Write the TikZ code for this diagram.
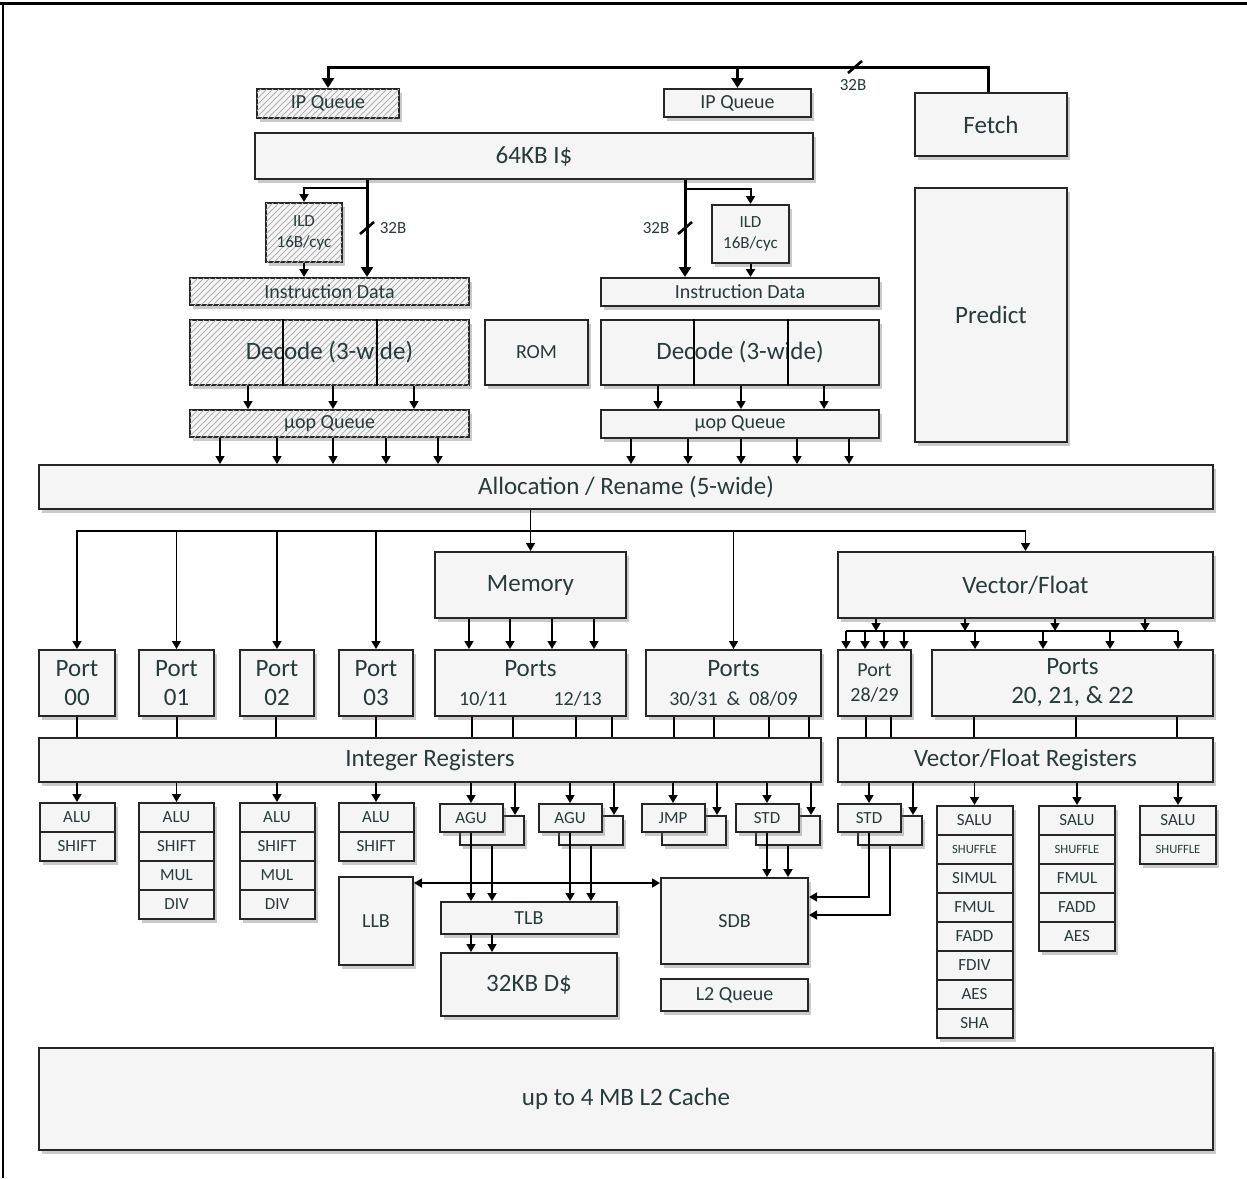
\documentclass[tikz,border=0pt]{standalone}
\usepackage{fontspec}
\setmainfont{Carlito}
\usetikzlibrary{shadows, patterns, arrows.meta, calc}
\definecolor{textocaja}{HTML}{263B3B}
\definecolor{fondocaja}{HTML}{F5F5F5}
\newcommand{\fgrande}{\fontsize{12.5}{14.5}\selectfont}
\newcommand{\fmedia}{\fontsize{10}{12.5}\selectfont}
\newcommand{\fchica}{\fontsize{8.5}{10.5}\selectfont}
\newcommand{\fmini}{\fontsize{6.3}{8}\selectfont}
\newcommand{\shuf}{{\fmini SHUFFLE}}
\tikzstyle{block} = [draw=black!85, line width=1pt, fill=fondocaja, text=textocaja, inner sep=0pt, align=center, font=\fgrande, drop shadow={shadow xshift=1.5pt, shadow yshift=-2pt, fill=black!60, opacity=0.35}]
\tikzstyle{hatched} = [postaction={pattern=north east lines, pattern color=black!30}]
\tikzstyle{unitcell} = [block, font=\fchica, minimum width=37.5pt, minimum height=14.5pt]
\tikzstyle{wire} = [line width=0.8pt]
\tikzstyle{wirearrow} = [wire, -{Triangle[width=4.5pt,length=4pt]}]
\tikzstyle{busline} = [line width=1.5pt, -{Triangle[width=6pt,length=5pt]}]
\tikzstyle{slashmark} = [line width=1.3pt]
\tikzstyle{label32} = [text=textocaja, font=\fchica, inner sep=1pt]

\begin{document}
\begin{tikzpicture}[x=0.5pt, y=-0.5pt]
	\useasboundingbox (0,0) rectangle (1247,1178);
	\draw[line width=1.5pt] (0,3) -- (1247,3);
	\draw[line width=1pt] (3,3) -- (3,1178);

	% front end
	\node[block, hatched, minimum width=71pt, minimum height=14.5pt, font=\fmedia] (ipqL) at (328,103.5) {IP Queue};
	\node[block, minimum width=73.5pt, minimum height=14pt, font=\fmedia] (ipqR) at (737.5,103) {IP Queue};
	\node[block, minimum width=76pt, minimum height=31.5pt] (fetch) at (991,124.5) {Fetch};
	\node[block, minimum width=76pt, minimum height=127pt] (predict) at (991,315) {Predict};
	\node[block, minimum width=279pt, minimum height=23pt] (icache) at (534,156) {64KB I\$};
	\node[block, hatched, minimum width=38pt, minimum height=29.5pt, font=\fchica] (ildL) at (304,232.5) {ILD\\16B/cyc};
	\node[block, minimum width=38.5pt, minimum height=29pt, font=\fchica] (ildR) at (750.5,234) {ILD\\16B/cyc};
	\node[block, hatched, minimum width=139.5pt, minimum height=13.5pt, font=\fmedia] (instrL) at (329.5,291.5) {Instruction Data};
	\node[block, minimum width=139pt, minimum height=14pt, font=\fmedia] (instrR) at (740,292) {Instruction Data};
	\node[block, hatched, minimum width=139.5pt, minimum height=32.5pt] (decL) at (329.5,352.5) {Decode (3-wide)};
	\node[block, minimum width=51.5pt, minimum height=32.5pt, font=\fmedia] (rom) at (536.5,352.5) {ROM};
	\node[block, minimum width=139pt, minimum height=32.5pt] (decR) at (740,352.5) {Decode (3-wide)};
	\node[block, hatched, minimum width=139.5pt, minimum height=13.5pt, font=\fmedia] (uopL) at (329.5,423.5) {µop Queue};
	\node[block, minimum width=139pt, minimum height=14pt, font=\fmedia] (uopR) at (740,424) {µop Queue};
	\node[block, minimum width=587pt, minimum height=22pt] (alloc) at (626,487) {Allocation / Rename (5-wide)};

	% back end
	\node[block, minimum width=95.5pt, minimum height=33pt] (mem) at (530.5,585) {Memory};
	\node[block, minimum width=187.5pt, minimum height=33pt] (vf) at (1025.5,585) {Vector/Float};
	\node[block, minimum width=38pt, minimum height=33pt] (p00) at (77,683) {Port\\00};
	\node[block, minimum width=37.5pt, minimum height=33pt] (p01) at (176.5,683) {Port\\01};
	\node[block, minimum width=37pt, minimum height=33pt] (p02) at (277,683) {Port\\02};
	\node[block, minimum width=37pt, minimum height=33pt] (p03) at (376,683) {Port\\03};
	\node[block, minimum width=95.5pt, minimum height=33pt] (p1013) at (530.5,683) {Ports\\{\fmedia 10/11\hspace{23pt}12/13}};
	\node[block, minimum width=87.5pt, minimum height=33pt] (p3031) at (733.5,683) {Ports\\{\fmedia 30/31 \ \& \ 08/09}};
	\node[block, minimum width=36.5pt, minimum height=33pt, font=\fmedia] (p2829) at (874.5,683) {Port\\28/29};
	\node[block, minimum width=140.5pt, minimum height=33pt] (p2022) at (1072.5,683) {Ports\\20, 21, \& 22};
	\node[block, minimum width=391pt, minimum height=22pt] (ireg) at (430,760) {Integer Registers};
	\node[block, minimum width=187.5pt, minimum height=22pt] (vreg) at (1025.5,760) {Vector/Float Registers};

	\foreach \n/\x/\lista in {a/77/{ALU,SHIFT}, b/176.5/{ALU,SHIFT,MUL,DIV}, c/277/{ALU,SHIFT,MUL,DIV}, d/376/{ALU,SHIFT}}
		\foreach \u [count=\i] in \lista
			\node[unitcell] (int\n-\i) at ({\x},{817.5+29*(\i-1)}) {\u};
	\foreach \n/\x/\lista in {a/974.5/{SALU,\shuf,SIMUL,FMUL,FADD,FDIV,AES,SHA}, b/1077/{SALU,\shuf,FMUL,FADD,AES}, c/1178/{SALU,\shuf}}
		\foreach \u [count=\i] in \lista
			\node[unitcell, minimum width=38pt] (vec\n-\i) at ({\x},{820.5+29*(\i-1)}) {\u};

	\foreach \n/\x/\t in {agu1/471/AGU, agu2/570/AGU, jmp/673/JMP, std/767/STD, vstd/869/STD} {
		\node[block, minimum width=32pt, minimum height=14.5pt] (\n-back) at ({\x+21},830.5) {};
		\node[block, font=\fchica, minimum width=31.5pt, minimum height=14pt] (\n) at ({\x},818) {\t};
		\coordinate (\n-in) at ($(\n-back.north east)+(-10,0)$);
	}

	\node[block, minimum width=37pt, minimum height=44pt, font=\fmedia] (llb) at (376,921) {LLB};
	\node[block, minimum width=88pt, minimum height=16pt, font=\fmedia] (tlb) at (529,918) {TLB};
	\node[block, minimum width=88pt, minimum height=31.5pt] (dcache) at (529,984.5) {32KB D\$};
	\node[block, minimum width=73.5pt, minimum height=43pt, font=\fmedia] (sdb) at (734.5,921) {SDB};
	\node[block, minimum width=73.5pt, minimum height=16pt, font=\fmedia] (l2q) at (734.5,995) {L2 Queue};
	\node[block, minimum width=587pt, minimum height=51pt] (l2) at (626,1099) {up to 4 MB L2 Cache};

	% decode slices
	\foreach \x in {283,377} \draw[wire] (decL.north -| \x,0) -- (decL.south -| \x,0);
	\foreach \x in {694,788} \draw[wire] (decR.north -| \x,0) -- (decR.south -| \x,0);

	% fetch bus
	\coordinate (bus) at (988,67);
	\draw[busline] (fetch.north -| bus) -- (bus) -| (ipqL.north);
	\draw[busline] (ipqR.north |- bus) -- (ipqR.north);
	\draw[slashmark] (855,67) ++(-7,6) -- ++(14,-12);
	\node[label32] (w32a) at (853,85) {32B};

	% I$ to instruction data
	\coordinate (tapL) at (367,0);
	\coordinate (tapR) at (685,0);
	\draw[busline] (icache.south -| tapL) -- (instrL.north -| tapL);
	\draw[busline] (icache.south -| tapR) -- (instrR.north -| tapR);
	\draw[wirearrow, line width=1pt] ($(icache.south -| tapL)+(0,8)$) -| (ildL.north);
	\draw[wirearrow, line width=1pt] ($(icache.south -| tapR)+(0,9)$) -| (ildR.north);
	\draw[wirearrow, line width=1pt] (ildL.south) -- (instrL.north -| ildL.south);
	\draw[wirearrow, line width=1pt] (ildR.south) -- (instrR.north -| ildR.south);
	\draw[slashmark] (367,228) ++(-7,6) -- ++(14,-12);
	\draw[slashmark] (685,228) ++(-7,6) -- ++(14,-12);
	\node[label32] (w32b) at (393,228) {32B};
	\node[label32] (w32c) at (656,228) {32B};

	% decode to uop queues to allocation
	\foreach \x in {248,333,414} \draw[wirearrow] (decL.south -| \x,0) -- (uopL.north -| \x,0);
	\foreach \x in {658,741,824} \draw[wirearrow] (decR.south -| \x,0) -- (uopR.north -| \x,0);
	\foreach \x in {220,277,333,386,438} \draw[wirearrow] (uopL.south -| \x,0) -- (alloc.north -| \x,0);
	\foreach \x in {631,688,741,797,849} \draw[wirearrow] (uopR.south -| \x,0) -- (alloc.north -| \x,0);

	% allocation to ports
	\draw[wirearrow] (alloc.south -| mem.north) -- (mem.north);
	\coordinate (reparto) at ($(alloc.south -| mem.north)+(0,21)$);
	\foreach \n in {p00,p01,p02,p03,p3031,vf} \draw[wirearrow] (reparto) -| (\n.north);
	\foreach \x in {469,510,552,594} \draw[wirearrow] (mem.south -| \x,0) -- (p1013.north -| \x,0);
	\coordinate (barra) at (0,631);
	\draw[wire] (barra -| 846,0) -- (barra -| 1178,0);
	\foreach \x in {876,965,1055,1145} \draw[wirearrow] (vf.south -| \x,0) -- (barra -| \x,0);
	\foreach \x in {846,865,884,904} \draw[wirearrow] (barra -| \x,0) -- (p2829.north -| \x,0);
	\foreach \x in {975,1043,1110,1178} \draw[wirearrow] (barra -| \x,0) -- (p2022.north -| \x,0);

	% ports to register files
	\foreach \x in {77,177,276,376,472,513,576,612,674,714,769,809} \draw[wire] (p00.south -| \x,0) -- (ireg.north -| \x,0);
	\foreach \x in {866,891,974,1076,1177} \draw[wire] (p2829.south -| \x,0) -- (vreg.north -| \x,0);

	% register files to units
	\foreach \n in {a,b,c,d} \draw[wirearrow] (ireg.south -| int\n-1.north) -- (int\n-1.north);
	\foreach \n in {a,b,c} \draw[wirearrow] (vreg.south -| vec\n-1.north) -- (vec\n-1.north);
	\foreach \n in {agu1,agu2,jmp,std} {
		\draw[wirearrow] (ireg.south -| \n.north) -- (\n.north);
		\draw[wirearrow] (ireg.south -| \n-in) -- (\n-in);
	}
	\draw[wirearrow] (vreg.south -| vstd.north) -- (vstd.north);
	\draw[wirearrow] (vreg.south -| vstd-in) -- (vstd-in);

	% memory pipeline
	\foreach \n in {agu1,agu2} {
		\draw[wirearrow] (\n.south) -- (tlb.north -| \n.south);
		\draw[wirearrow] (\n-back.south) -- (tlb.north -| \n-back.south);
	}
	\draw[wirearrow] (tlb.south -| agu1.south) -- (dcache.north -| agu1.south);
	\draw[wirearrow] (tlb.south -| agu1-back.south) -- (dcache.north -| agu1-back.south);
	\coordinate (enlace) at (0,883);
	\draw[wire, {Triangle[width=4.5pt,length=4pt]}-{Triangle[width=4.5pt,length=4pt]}] (llb.east |- enlace) -- (sdb.west |- enlace);
	\draw[wirearrow] (std.south) -- (sdb.north -| std.south);
	\draw[wirearrow] (std-back.south) -- (sdb.north -| std-back.south);
	\draw[wirearrow] (vstd.south) |- ($(sdb.east)+(0,-24)$);
	\draw[wirearrow] (vstd-back.south) |- ($(sdb.east)+(0,-6)$);
\end{tikzpicture}
\end{document}
